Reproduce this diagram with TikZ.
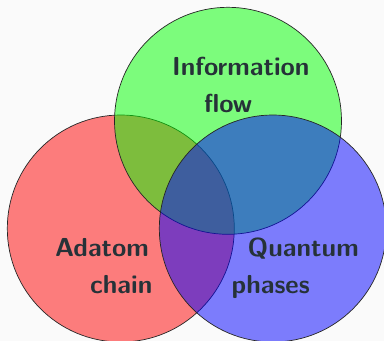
\documentclass[tikz,border=0pt]{standalone}
\usepackage{xcolor}
\definecolor{pagebg}{HTML}{FAFAFA}
\definecolor{labelink}{HTML}{263238}
\begin{document}
\begin{tikzpicture}[x=1pt,y=-1pt,
  setcircle/.style={draw=black!85,line width=0.7pt,fill opacity=0.5},
  setlabel/.style={inner sep=0pt,anchor=base west,align=left,text=labelink,
    font=\fontsize{26}{37}\selectfont\sffamily\bfseries}]
  % page background and fixed frame
  \fill[pagebg] (0,0) rectangle (384,341);
  \useasboundingbox (0,0) rectangle (384,341);
  % the three sets, drawn in order red, green, blue
  \path[setcircle,fill=red]   (120.8,228.5) circle[radius=113.5];
  \path[setcircle,fill=green] (228,120.8)   circle[radius=113.5];
  \path[setcircle,fill=blue]  (272.8,228.5) circle[radius=113.5];
  % labels (the base anchor sits on the second line's baseline)
  \node[setlabel] (info)    at (172,112.7)   {Information\\\hspace*{32pt}flow};
  \node[setlabel] (adatom)  at (55,293)      {Adatom\\\hspace*{35pt}chain};
  \node[setlabel] (quantum) at (231.5,293)   {\hspace*{16pt}Quantum\\phases};
\end{tikzpicture}
\end{document}
